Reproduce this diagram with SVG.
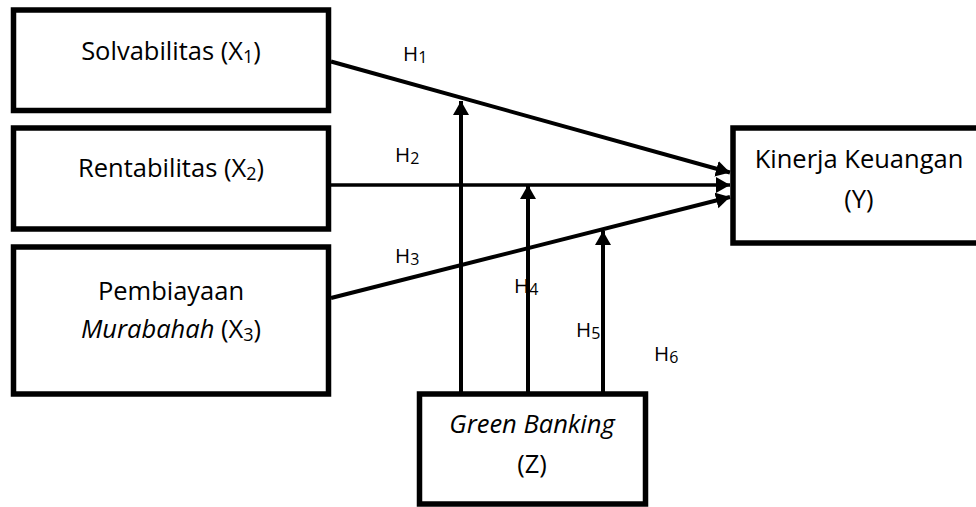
<svg xmlns="http://www.w3.org/2000/svg" width="976" height="507" viewBox="0 0 976 507">
<style>
.box{fill:#fff;stroke:#000;stroke-width:5.5}
.t{font-family:"Open Sans","Noto Sans",sans-serif;font-size:25.5px;fill:#000;text-anchor:middle}
.h{font-family:"Open Sans","Noto Sans",sans-serif;font-size:20.5px;fill:#000}
.sub{font-size:18px}
.hs{font-size:16px}
.ln{stroke:#000;stroke-width:4;fill:none}
</style>
<defs>
<marker id="ah" markerUnits="userSpaceOnUse" markerWidth="15" markerHeight="17" refX="14" refY="8" orient="auto" viewBox="0 0 15 17">
<path d="M0,0 L14,8 L0,16 z" fill="#000"/>
</marker>
</defs>
<rect width="976" height="507" fill="#fff"/>
<g id="connectors">
<line class="ln" x1="331" y1="61.5" x2="730" y2="172.5" marker-end="url(#ah)"/>
<line class="ln" style="stroke-width:3.5" x1="331" y1="185" x2="730" y2="185" marker-end="url(#ah)"/>
<line class="ln" x1="331" y1="298" x2="730" y2="197" marker-end="url(#ah)"/>
<line class="ln" x1="461" y1="392" x2="461" y2="101" marker-end="url(#ah)"/>
<line class="ln" x1="528" y1="392" x2="528" y2="185" marker-end="url(#ah)"/>
<line class="ln" x1="603" y1="392" x2="603" y2="231" marker-end="url(#ah)"/>
</g>
<g id="labels">
<text class="h" x="403" y="61">H<tspan class="hs" dy="2">1</tspan></text>
<text class="h" x="395" y="162">H<tspan class="hs" dy="2">2</tspan></text>
<text class="h" x="395" y="263">H<tspan class="hs" dy="2">3</tspan></text>
<text class="h" x="514" y="293">H<tspan class="hs" dy="2">4</tspan></text>
<text class="h" x="576" y="337">H<tspan class="hs" dy="2">5</tspan></text>
<text class="h" x="654" y="361">H<tspan class="hs" dy="2">6</tspan></text>
</g>
<g id="x1">
<rect class="box" x="13.5" y="10" width="315" height="100.5"/>
<text class="t" x="171" y="60">Solvabilitas (X<tspan class="sub" dy="3">1</tspan><tspan dy="-3">)</tspan></text>
</g>
<g id="x2">
<rect class="box" x="13.5" y="128" width="315" height="101"/>
<text class="t" x="171" y="177">Rentabilitas (X<tspan class="sub" dy="3">2</tspan><tspan dy="-3">)</tspan></text>
</g>
<g id="x3">
<rect class="box" x="13.5" y="247" width="315" height="147"/>
<text class="t" x="171" y="300">Pembiayaan</text>
<text class="t" x="171" y="338"><tspan font-style="italic">Murabahah</tspan> (X<tspan class="sub" dy="3">3</tspan><tspan dy="-3">)</tspan></text>
</g>
<g id="y">
<rect class="box" x="733" y="128" width="260" height="115"/>
<text class="t" x="859" y="168">Kinerja Keuangan</text>
<text class="t" x="859" y="208">(Y)</text>
</g>
<g id="z">
<rect class="box" x="419.5" y="394" width="226" height="110"/>
<text class="t" x="532" y="433" font-style="italic">Green Banking</text>
<text class="t" x="532" y="473">(Z)</text>
</g>
</svg>
